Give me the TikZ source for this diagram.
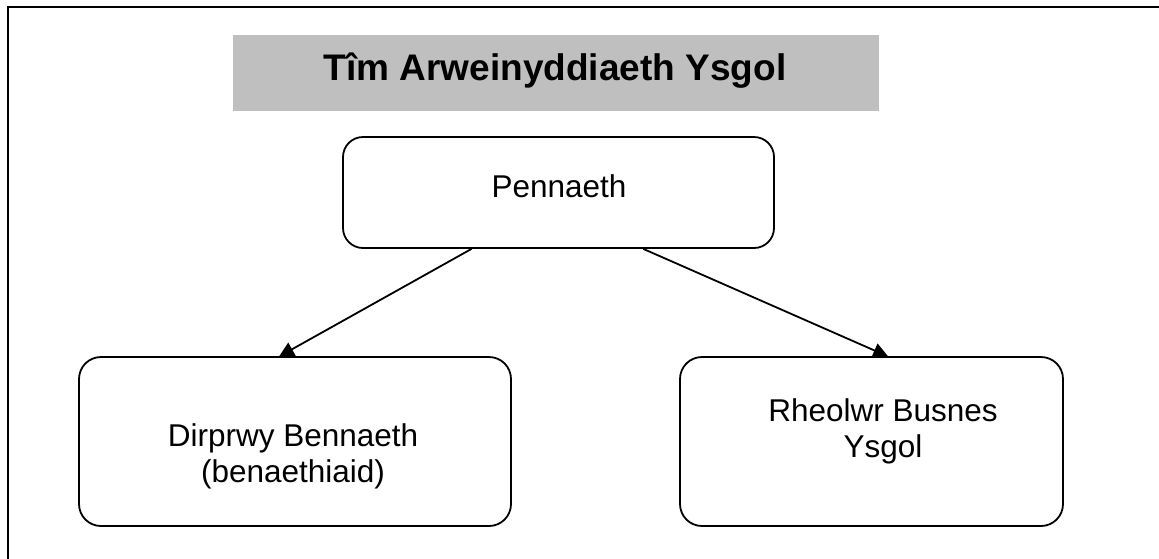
\documentclass[tikz,border=0pt]{standalone}
\usepackage{fontspec}
\setmainfont{Liberation Sans}
\usetikzlibrary{arrows.meta,calc}
\tikzset{
  box/.style={draw=black, line width=1.8pt, rounded corners=#1, fill=white},
  box/.default=22pt,
  txt/.style={font=\fontsize{31.5}{35.5}\selectfont, align=center, inner sep=0pt},
  ttl/.style={font=\fontsize{37}{40}\selectfont\bfseries, inner sep=0pt},
  conn/.style={line width=1.8pt, -{Triangle[length=15pt,width=15pt]}, shorten >=-1pt}
}
\begin{document}
\begin{tikzpicture}[x=1pt,y=-1pt]
\useasboundingbox (0,0) rectangle (1159,558);
\fill[white] (0,0) rectangle (1159,558);
% frame
\draw[line width=2.3pt] (8,560) -- (8,7) -- (1161,7);
% title
\node[fill=black!25, minimum width=646, minimum height=76, inner sep=0pt] (title) at (556,73) {};
\node[ttl, anchor=base] (titletext) at (555,80) {Tîm Arweinyddiaeth Ysgol};
% boxes
\node[box=20pt, minimum width=431, minimum height=111, inner sep=0pt] (pen) at (558.5,192.5) {};
\node[txt, anchor=base] (pentext) at (559,197) {Pennaeth};
\node[box, minimum width=432, minimum height=169, inner sep=0pt] (dir) at (295,441.5) {};
\node[txt, anchor=base] (dirtext) at (293,482) {Dirprwy Bennaeth\\(benaethiaid)};
\node[box, minimum width=383, minimum height=169, inner sep=0pt] (rhe) at (871.5,441.5) {};
\node[txt, anchor=base] (rhetext) at (883,457) {Rheolwr Busnes\\Ysgol};
% connectors
\draw[conn] ($(pen.south west)!0.299!(pen.south east)$) -- ($(dir.north west)!0.465!(dir.north east)$);
\draw[conn] ($(pen.south west)!0.696!(pen.south east)$) -- ($(rhe.north west)!0.541!(rhe.north east)$);
\end{tikzpicture}
\end{document}
